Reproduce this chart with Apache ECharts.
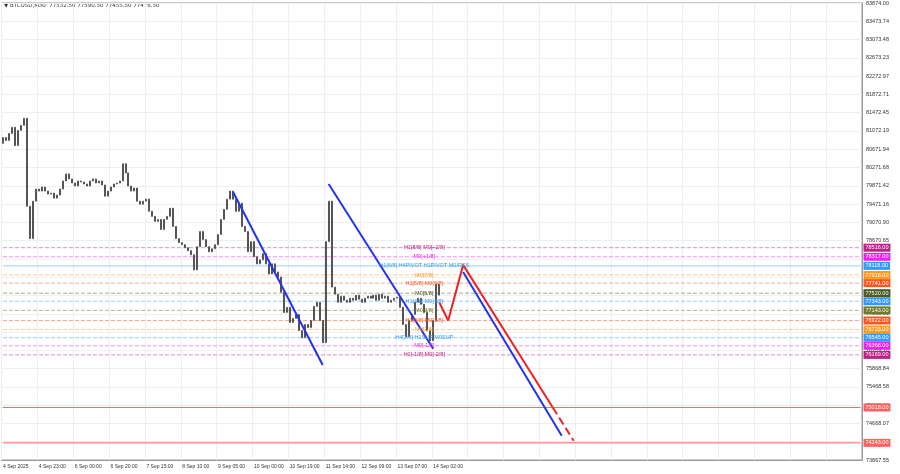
<!DOCTYPE html>
<html lang="en">
<head>
  <meta charset="UTF-8" />
  <title>BTCUSD M30</title>
  <script src="https://cdn.jsdelivr.net/npm/echarts@6/dist/echarts.min.js"></script>
  <style>
    html, body { margin: 0; padding: 0; background: #fff; }
    #chart { width: 900px; height: 474px; }
  </style>
</head>
<body>
  <div id="chart"></div>
  <script>
    // closes sampled along the chart, one per slot
    const closes = [80929, 80863, 81018, 81151, 80752, 81084, 81195, 81350, 79424, 78715,
      79535, 79800, 79756, 79845, 79756, 79690, 79712, 79601, 79668, 79800,
      79977, 80132, 80022, 79933, 79867, 79977, 79955, 79911, 79867, 79977,
      80022, 79933, 79977, 79889, 79645, 79756, 79845, 79911, 79933, 79977,
      80354, 80154, 79867, 79756, 79822, 79535, 79468, 79535, 79579, 79313,
      79202, 79092, 79136, 78915, 79136, 79202, 79380, 78981, 78715, 78627,
      78583, 78516, 78450, 78361, 78030, 78538, 78870, 78693, 78538, 78428,
      78494, 78583, 78804, 79136, 79357, 79579, 79756, 79579, 79313, 79490,
      78981, 78870, 78428, 78649, 78317, 78162, 78251, 78384, 78162, 77941,
      78162, 77985, 77874, 77542, 77099, 77211, 76878, 76967, 77055, 76701,
      76545, 76834, 76767, 76922, 77232, 77321, 76922, 76435, 78649, 79535,
      77653, 77498, 77321, 77454, 77366, 77321, 77410, 77366, 77476, 77388,
      77321, 77410, 77454, 77410, 77476, 77366, 77498, 77410, 77454, 77321,
      77366, 77410, 77432, 77211, 76834, 76567, 76922, 77055, 77321, 77410,
      77277, 77099, 76701, 76479, 76922, 77719, 77478];
    const firstOpen = 80800;
    const slotCount = 288;
    const tickLabels = ['4 Sep 2025', '4 Sep 23:00', '6 Sep 00:00', '6 Sep 20:00', '7 Sep 15:00',
      '8 Sep 10:00', '9 Sep 05:00', '10 Sep 00:00', '10 Sep 19:00', '11 Sep 14:00',
      '12 Sep 09:00', '13 Sep 07:00', '14 Sep 02:00'];
    const tickEvery = 12;

    // level lines: price, label text, colour, line type
    const levelPrices = [78516, 78317, 78118, 77918, 77741, 77520, 77343, 77143, 76922, 76723, 76545, 76368, 76169];
    const levelTexts = ['H1[8/8] M0[+2/8]', 'M0[+1/8]', 'H1[6/8] H4PIVOT H1PIVOT M0/RES', 'M0[7/8]',
      'H1[5/8] M0[6/8]', 'M0[5/8]', 'H1[4/8] M0[4/8]', 'M0[3/8]', 'H1[3/8] M0[2/8]', 'M0[1/8]',
      'H4[2/8] H1SUP M0SUP', 'M0[-1/8]', 'H1[-1/8] M0[-2/8]'];
    const levelColors = ['#c0208a', '#ee22ee', '#3399ff', '#ff9922', '#ff5522', '#4a5a20', '#3399ff',
      '#6b7d2a', '#ff5522', '#ff9922', '#3399ff', '#ee22ee', '#c0208a'];
    const levelTypes = ['dashed', 'dashed', 'solid', 'dashed', 'dashed', 'dashed', 'dashed',
      'dashed', 'dashed', 'dashed', 'dashed', 'dashed', 'dashed'];
    const redLevels = [75018, 74243];

    // trend lines [slot, price]
    const blueLine1 = [[77, 79734], [107, 75948]];
    const blueLine2 = [[109, 79911], [144, 76302]];
    const blueLine3 = [[154, 77985], [187, 74398]];
    const redPath = [[146, 77321], [149, 76922], [154, 78140], [184, 75018]];
    const redDash = [[184, 75018], [191, 74287]];

    const yMin = 73867.55, yMax = 83874.0;
    const yStep = (yMax - yMin) / 25;

    const slots = [];
    for (let i = 0; i < slotCount; i++) slots.push(i);
    const candles = closes.map((c, i) => {
      const o = i === 0 ? firstOpen : closes[i - 1];
      return [o, c, Math.min(o, c), Math.max(o, c)];
    });

    function levelSeries(p, color, type, opacity, text) {
      const s = {
        type: 'line', silent: true, symbol: 'none', z: 2,
        data: [[0, p], [slotCount - 1, p]],
        lineStyle: { color: color, type: type, width: 1, opacity: opacity },
        itemStyle: { color: color },
        endLabel: { show: true, formatter: p.toFixed(2), color: '#fff', backgroundColor: color,
          fontSize: 5.5, padding: [1, 2], distance: 3 }
      };
      if (text) {
        s.markPoint = {
          symbol: 'circle', symbolSize: 0,
          label: { show: true, formatter: text, fontSize: 5.5, color: color, position: 'inside' },
          data: [{ coord: [141, p] }]
        };
      }
      return s;
    }

    const levels = levelPrices.map((p, i) =>
      levelSeries(p, levelColors[i], levelTypes[i], 0.5, levelTexts[i]))
      .concat(redLevels.map(p => levelSeries(p, '#ff6060', 'solid', 1, null)));

    const chart = echarts.init(document.getElementById('chart'));
    chart.setOption({
      animation: false,
      grid: { left: 1, right: 38, top: 2, bottom: 14, show: true, borderColor: '#999' },
      graphic: [{ type: 'text', left: 4, top: 3,
        style: { text: '▼ BTCUSD,M30  77532.50 77590.50 77455.50 77478.50', fontSize: 5.5, fill: '#333',
          fontFamily: 'DejaVu Sans' } }],
      xAxis: {
        type: 'category', data: slots, boundaryGap: true,
        axisLine: { onZero: false, lineStyle: { color: '#999' } },
        axisTick: { show: false },
        axisLabel: { interval: tickEvery - 1, fontSize: 5, color: '#333', align: 'left', margin: 4,
          formatter: (v, idx) => tickLabels[idx / tickEvery] || '' },
        splitLine: { show: true, interval: tickEvery - 1, lineStyle: { color: '#efefef' } }
      },
      yAxis: {
        type: 'value', position: 'right', min: yMin, max: yMax, interval: yStep, scale: true,
        axisLine: { show: true, onZero: false, lineStyle: { color: '#999' } },
        axisTick: { show: false },
        axisLabel: { fontSize: 5.5, color: '#333', margin: 4, formatter: v => v.toFixed(2) },
        splitLine: { show: true, lineStyle: { color: '#efefef' } }
      },
      series: [
        {
          type: 'candlestick', data: candles, barWidth: 1.5, z: 3,
          itemStyle: { color: '#fff', color0: '#555', borderColor: '#555', borderColor0: '#555', borderWidth: 1 }
        },
        { type: 'line', data: blueLine1, symbol: 'none', z: 4, lineStyle: { color: '#2233ee', width: 2 } },
        { type: 'line', data: blueLine2, symbol: 'none', z: 4, lineStyle: { color: '#2233ee', width: 2 } },
        { type: 'line', data: blueLine3, symbol: 'none', z: 4, lineStyle: { color: '#2233ee', width: 2 } },
        { type: 'line', data: redPath, symbol: 'none', z: 4, lineStyle: { color: '#ee2222', width: 2 } },
        { type: 'line', data: redDash, symbol: 'none', z: 4,
          lineStyle: { color: '#ee2222', width: 2, type: 'dashed' } }
      ].concat(levels)
    });
  </script>
</body>
</html>
